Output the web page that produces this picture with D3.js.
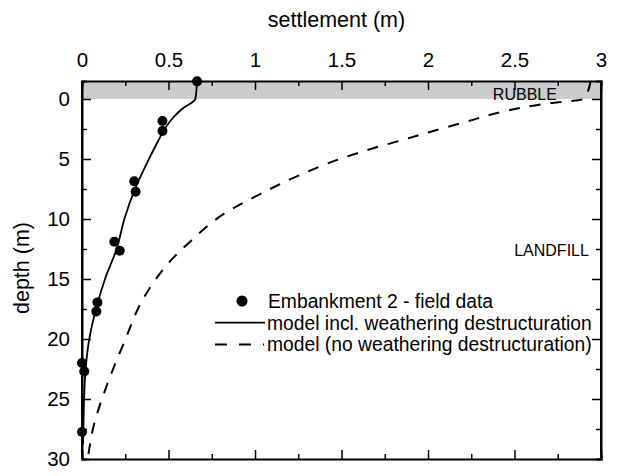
<!DOCTYPE html>
<html>
<head>
<meta charset="utf-8">
<script src="https://cdn.jsdelivr.net/npm/d3@7"></script>
<style>
  body { margin: 0; background: #fff; }
  svg { font-family: "Liberation Sans", Arial, sans-serif; }
</style>
</head>
<body>
<div id="chart"></div>
<script>
// field data: [settlement (m), depth (m)]
var fieldSettlement = [0.665, 0.465, 0.465, 0.302, 0.31, 0.187, 0.218, 0.089, 0.083, 0.0, 0.013, 0.0];
var fieldDepth      = [-1.47, 1.83, 2.67, 6.86, 7.72, 11.9, 12.64, 16.95, 17.7, 22.0, 22.7, 27.75];

// model incl. weathering destructuration
var modelDepth      = [-1.5, 0, 0.75, 1.5, 2.36, 3.5, 5, 7.5, 10, 12.5, 15, 17.5, 20, 22.5, 25, 27.5, 28.8];
var modelSettlement = [0.665, 0.655, 0.585, 0.53, 0.484, 0.44, 0.387, 0.306, 0.245, 0.2, 0.133, 0.081, 0.042, 0.021, 0.012, 0.008, 0.006];

// model (no weathering destructuration)
var noWeathDepth      = [-1.5, 0, 0.35, 1.1, 1.9, 2.87, 3.3, 3.95, 5.0, 6.33, 7.92, 9.58, 11.95, 13.2, 16.25, 20.4, 24.0, 27.4, 29.6];
var noWeathSettlement = [2.94, 2.9, 2.7, 2.42, 2.22, 1.98, 1.88, 1.72, 1.49, 1.26, 1.03, 0.82, 0.62, 0.53, 0.37, 0.24, 0.14, 0.065, 0.037];

var xTicks = [0, 0.5, 1, 1.5, 2, 2.5, 3];
var yTicks = [0, 5, 10, 15, 20, 25, 30];
var legendLabels = ["Embankment 2 - field data",
                    "model incl. weathering destructuration",
                    "model (no weathering destructuration)"];

var W = 618, H = 476;
var margin = {top: 81, right: 17, bottom: 17, left: 82},
    width = W - margin.left - margin.right,
    height = H - margin.top - margin.bottom;

var svg = d3.select("#chart").append("svg")
    .attr("width", W)
    .attr("height", H)
  .append("g")
    .attr("transform", "translate(" + margin.left + "," + margin.top + ")");

var x = d3.scaleLinear().domain([0, 3]).range([0, width]);
var y = d3.scaleLinear().domain([-1.5, 30]).range([0, height]);

// rubble layer
svg.append("rect")
    .attr("x", 0).attr("y", y(-1.5))
    .attr("width", width).attr("height", y(0) - y(-1.5))
    .attr("fill", "#cccccc");

svg.append("text")
    .attr("x", x(2.56)).attr("y", y(0) + 1)
    .attr("text-anchor", "middle")
    .style("font-size", "16px")
    .text("RUBBLE");

svg.append("text")
    .attr("x", x(2.93)).attr("y", y(13.1))
    .attr("text-anchor", "end")
    .style("font-size", "16px")
    .text("LANDFILL");

// axes: ticks inward, major + minor
var minorX = d3.range(0, 3.01, 0.25), minorY = d3.range(0, 30.1, 2.5);

function drawAxis(g, axisFn, scale, minor, major, labels) {
  var a = axisFn(scale).tickValues(minor).tickSizeOuter(0)
    .tickSize(-5)
    .tickFormat(function(d) { return labels && major.indexOf(d) >= 0 ? d3.format("")(d) : ""; });
  g.call(a);
  var horiz = axisFn === d3.axisTop || axisFn === d3.axisBottom;
  var len = (axisFn === d3.axisTop || axisFn === d3.axisLeft) ? 9 : -9;
  g.selectAll(".tick line").filter(function(d) { return major.indexOf(d) >= 0; })
    .attr(horiz ? "y2" : "x2", len);
  g.select(".domain").attr("stroke-width", 2);
  g.selectAll(".tick line").attr("stroke-width", 1.5);
  g.selectAll("text").style("font-size", "20.5px").attr("fill", "#000");
}

var gTop = svg.append("g");
drawAxis(gTop, d3.axisTop, x, minorX, xTicks, true);
gTop.selectAll("text").attr("y", -14.5);

var gBottom = svg.append("g").attr("transform", "translate(0," + height + ")");
drawAxis(gBottom, d3.axisBottom, x, minorX, xTicks, false);

var gLeft = svg.append("g");
drawAxis(gLeft, d3.axisLeft, y, minorY, yTicks, true);
gLeft.selectAll("text").attr("x", -12);

var gRight = svg.append("g").attr("transform", "translate(" + width + ",0)");
drawAxis(gRight, d3.axisRight, y, minorY, yTicks, false);

svg.append("line").attr("x1", 0).attr("x2", 0).attr("y1", 0).attr("y2", height)
    .attr("stroke", "#000").attr("stroke-width", 2);
svg.append("line").attr("x1", width).attr("x2", width).attr("y1", 0).attr("y2", height)
    .attr("stroke", "#000").attr("stroke-width", 2);

// axis titles
svg.append("text")
    .attr("x", width / 2 - 5).attr("y", -54)
    .attr("text-anchor", "middle")
    .style("font-size", "21.5px")
    .text("settlement (m)");

svg.append("text")
    .attr("transform", "translate(" + (-53) + "," + (height / 2 - 2) + ") rotate(-90)")
    .attr("text-anchor", "middle")
    .style("font-size", "21.5px")
    .text("depth (m)");

// model curves
var line = d3.line()
    .x(function(d) { return x(d[0]); })
    .y(function(d) { return y(d[1]); })
    .curve(d3.curveMonotoneY);

svg.append("path")
    .datum(d3.zip(noWeathSettlement, noWeathDepth))
    .attr("d", line)
    .attr("fill", "none").attr("stroke", "#000").attr("stroke-width", 2)
    .attr("stroke-dasharray", "11,10");

svg.append("path")
    .datum(d3.zip(modelSettlement, modelDepth))
    .attr("d", line)
    .attr("fill", "none").attr("stroke", "#000").attr("stroke-width", 1.8);

svg.selectAll(".dot")
    .data(d3.zip(fieldSettlement, fieldDepth))
  .enter().append("circle")
    .attr("class", "dot")
    .attr("cx", function(d) { return x(d[0]); })
    .attr("cy", function(d) { return y(d[1]); })
    .attr("r", 5)
    .attr("fill", "#000");

// legend
var lg = svg.append("g").attr("transform", "translate(" + (215 - margin.left) + "," + (301 - margin.top) + ")");
var rowH = 21.7;
lg.append("circle").attr("cx", 27).attr("cy", 0).attr("r", 5.5).attr("fill", "#000");
lg.append("line").attr("x1", 0).attr("x2", 50).attr("y1", rowH).attr("y2", rowH)
    .attr("stroke", "#000").attr("stroke-width", 1.8);
lg.append("line").attr("x1", 0).attr("x2", 49).attr("y1", 2 * rowH).attr("y2", 2 * rowH)
    .attr("stroke", "#000").attr("stroke-width", 2).attr("stroke-dasharray", "12,12");

lg.selectAll(".lab")
    .data(legendLabels)
  .enter().append("text")
    .attr("class", "lab")
    .attr("x", function(d, i) { return i === 0 ? 53 : 52; })
    .attr("y", function(d, i) { return i * rowH + 7; })
    .style("font-size", "19.3px")
    .text(function(d) { return d; });
</script>
</body>
</html>
